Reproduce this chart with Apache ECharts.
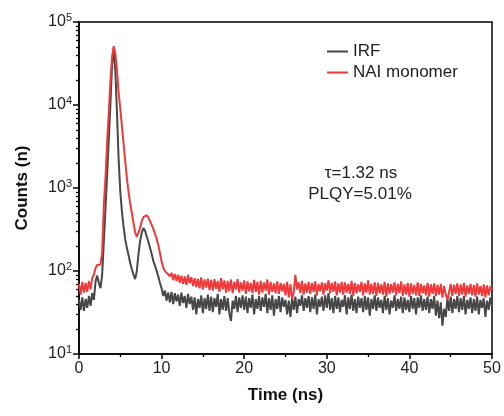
<!DOCTYPE html>
<html>
<head>
<meta charset="utf-8">
<script src="https://cdn.jsdelivr.net/npm/echarts@6/dist/echarts.min.js"></script>
<style>html,body{margin:0;padding:0;background:#fff;}#chart{width:504px;height:416px;}</style>
</head>
<body>
<div id="chart"></div>
<script>
// Time grid: 0 to 50 ns, one channel every 0.2 ns
const timeStartNs = 0;
const timeStepNs = 0.2;

// IRF counts, one value per channel
const irfCounts = [
  45, 34, 48, 33, 46, 36, 50, 38, 54, 45,
  74, 88, 72, 62, 90, 220, 550, 1400, 3800, 10000,
  30000, 46000, 26000, 8000, 2200, 900, 520, 340, 240, 190,
  155, 125, 105, 90, 80, 100, 160, 230, 290, 330,
  305, 260, 225, 190, 160, 132, 116, 100, 86, 72,
  62, 50, 58, 44, 55, 42, 56, 40, 54, 43,
  52, 38, 55, 41, 50, 36, 53, 40, 49, 34,
  48, 30, 46, 36, 51, 31, 47, 35, 52, 33,
  49, 32, 47, 37, 53, 30, 46, 34, 50, 33,
  47, 31, 25, 44, 35, 50, 32, 48, 36, 51,
  34, 49, 31, 47, 36, 52, 30, 46, 35, 50,
  33, 48, 37, 53, 31, 47, 34, 51, 29, 46,
  35, 50, 32, 48, 37, 45, 30, 44, 28, 47,
  34, 49, 31, 46, 38, 51, 33, 47, 36, 50,
  32, 48, 35, 52, 30, 46, 37, 49, 33, 51,
  36, 54, 34, 47, 31, 50, 35, 48, 32, 45,
  37, 51, 30, 48, 35, 52, 33, 46, 31, 49,
  36, 47, 32, 50, 34, 48, 29, 46, 35, 51,
  33, 48, 36, 45, 31, 50, 34, 47, 30, 44,
  36, 51, 33, 46, 35, 49, 31, 48, 34, 45,
  32, 50, 35, 47, 30, 48, 36, 51, 33, 46,
  34, 49, 31, 46, 35, 50, 29, 44, 27, 42,
  22, 35, 28, 47, 33, 49, 31, 46, 35, 50,
  32, 47, 34, 50, 30, 45, 35, 48, 31, 46,
  33, 49, 30, 45, 36, 47, 28, 44, 34, 48,
  38
];

// NAI monomer counts, one value per channel
const naiCounts = [
  70, 52, 74, 55, 72, 56, 76, 60, 82, 90,
  108, 118, 112, 120, 165, 600, 1300, 3500, 8000, 19000,
  38000, 51000, 42000, 26000, 14000, 9000, 5500, 3400, 2100, 1300,
  900, 650, 500, 380, 290, 258, 272, 330, 400, 445,
  465, 470, 440, 400, 360, 320, 282, 245, 205, 165,
  130, 110, 100, 95, 91, 86, 95, 78, 92, 76,
  90, 72, 88, 70, 86, 68, 90, 71, 84, 66,
  82, 64, 80, 62, 84, 60, 79, 63, 81, 59,
  78, 58, 80, 61, 76, 56, 82, 60, 77, 55,
  76, 57, 79, 54, 74, 60, 80, 55, 73, 58,
  77, 53, 75, 57, 72, 54, 78, 56, 74, 52,
  76, 55, 73, 58, 79, 52, 74, 56, 71, 54,
  75, 53, 72, 57, 70, 51, 74, 48, 69, 46,
  56, 90, 60, 73, 54, 76, 52, 71, 55, 74,
  53, 72, 56, 75, 51, 70, 57, 73, 52, 71,
  58, 77, 54, 72, 56, 75, 51, 71, 55, 74,
  52, 73, 55, 70, 53, 76, 50, 72, 54, 69,
  56, 74, 51, 71, 55, 77, 52, 70, 53, 73,
  50, 72, 54, 69, 52, 74, 49, 71, 53, 70,
  55, 73, 51, 70, 54, 75, 50, 69, 52, 72,
  49, 71, 53, 68, 51, 73, 50, 70, 54, 67,
  51, 72, 49, 69, 53, 71, 50, 68, 52, 70,
  48, 66, 52, 45, 55, 70, 50, 68, 53, 71,
  50, 69, 52, 72, 49, 67, 53, 70, 51, 68,
  49, 71, 52, 66, 50, 69, 48, 67, 51, 65,
  60
];

const seriesNames = ['IRF', 'NAI monomer'];
const xTicks = [0, 10, 20, 30, 40, 50];
const yMajorTicks = [10, 100, 1000, 10000, 100000];
const annotationLines = ['\u03c4=1.32 ns', 'PLQY=5.01%'];

function pairs(values) {
  return values.map((v, i) => [+(timeStartNs + i * timeStepNs).toFixed(2), v]);
}

const FONT = 'Liberation Sans, Arial, sans-serif';
const GRID = {left: 79, right: 12, top: 22, bottom: 62};
const chart = echarts.init(document.getElementById('chart'), null, {renderer: 'canvas'});

chart.setOption({
  animation: false,
  backgroundColor: '#fff',
  grid: Object.assign({show: true, borderColor: '#000', borderWidth: 1.5, containLabel: false}, GRID),
  legend: {
    orient: 'vertical', left: 322, top: 37, icon: 'rect', itemWidth: 21, itemHeight: 2, itemGap: 2,
    data: seriesNames,
    textStyle: {fontFamily: FONT, fontSize: 17, color: '#222', lineHeight: 19}
  },
  xAxis: {
    type: 'value', min: xTicks[0], max: xTicks[xTicks.length - 1], interval: 10,
    name: 'Time (ns)', nameLocation: 'middle', nameGap: 33,
    nameTextStyle: {fontFamily: FONT, fontSize: 17, fontWeight: 'bold', color: '#111'},
    axisLine: {show: true, onZero: false, lineStyle: {color: '#000', width: 1.5}},
    axisTick: {show: true, inside: false, length: 5, lineStyle: {color: '#000', width: 1.5}},
    minorTick: {show: true, splitNumber: 2, length: 3, lineStyle: {color: '#000', width: 1.3}},
    axisLabel: {fontFamily: FONT, fontSize: 16, color: '#222', margin: 7},
    splitLine: {show: false}
  },
  yAxis: {
    type: 'log', logBase: 10, min: yMajorTicks[0], max: yMajorTicks[yMajorTicks.length - 1],
    name: 'Counts (n)', nameLocation: 'middle', nameGap: 48,
    nameTextStyle: {fontFamily: FONT, fontSize: 17, fontWeight: 'bold', color: '#111'},
    axisLine: {show: true, lineStyle: {color: '#000', width: 1.5}},
    axisTick: {show: true, inside: false, length: 6, lineStyle: {color: '#000', width: 1.5}},
    minorTick: {show: true, splitNumber: 9, length: 3, lineStyle: {color: '#000', width: 1.3}},
    axisLabel: {
      margin: 7, color: '#222',
      formatter: function (v) { return '{b|10}{s|' + Math.round(Math.log10(v)) + '}'; },
      rich: {
        b: {fontFamily: FONT, fontSize: 16, color: '#222'},
        s: {fontFamily: FONT, fontSize: 11, color: '#222', padding: [0, 0, 9, 0]}
      }
    },
    splitLine: {show: false}
  },
  series: [{
    name: seriesNames[0], type: 'line', data: pairs(irfCounts), showSymbol: false, symbol: 'none',
    lineStyle: {color: '#474747', width: 2}, itemStyle: {color: '#474747'}, z: 2, clip: true
  }, {
    name: seriesNames[1], type: 'line', data: pairs(naiCounts), showSymbol: false, symbol: 'none',
    lineStyle: {color: '#ee3a3a', width: 2}, itemStyle: {color: '#ee3a3a'}, z: 3, clip: true
  }],
  graphic: [{
    type: 'text', x: 361, y: 173, silent: true,
    style: {text: annotationLines[0], fontFamily: FONT, fontSize: 17, fill: '#222', align: 'center', verticalAlign: 'middle'}
  }, {
    type: 'text', x: 360, y: 194, silent: true,
    style: {text: annotationLines[1], fontFamily: FONT, fontSize: 17, fill: '#222', align: 'center', verticalAlign: 'middle'}
  }]
});
</script>
</body>
</html>
